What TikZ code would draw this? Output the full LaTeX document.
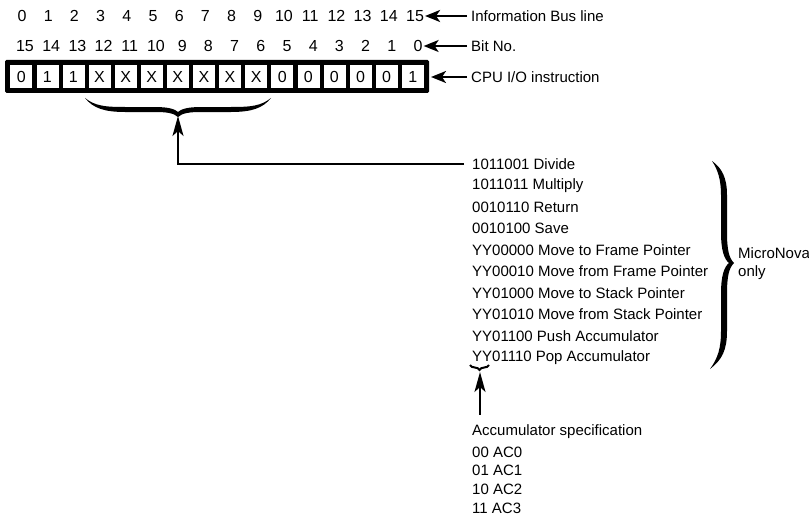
\documentclass[tikz,border=0pt]{standalone}
\usepackage{fontspec}
\setmainfont{Liberation Sans}
\usetikzlibrary{arrows.meta,decorations.pathreplacing}

\tikzset{
  cell/.style={draw=black, line width=0.6pt, fill=white, minimum width=23pt,
    minimum height=24pt, inner sep=0pt, font=\fontsize{16}{16}\selectfont},
  num/.style={inner sep=1pt, font=\fontsize{16}{16}\selectfont},
  txt/.style={anchor=west, inner sep=0pt, font=\fontsize{15}{18}\selectfont},
  arr/.style={-{Stealth[length=15pt,width=12pt,inset=4pt]}, line width=2pt},
  upar/.style={-{Stealth[length=20pt,width=11pt,inset=5pt]}, line width=2pt},
  brc/.style={decorate, decoration={brace, amplitude=#1}, line width=2pt},
}

\begin{document}
\begin{tikzpicture}[x=1pt,y=-1pt]
  \useasboundingbox (0,0) rectangle (809,519);

  % Bus line and bit numbers
  \foreach \i in {0,...,15}
    \node[num] (bus\i) at (22+26.2*\i,16) {\i};
  \foreach \i in {0,...,15}
    \node[num] (bit\i) at (418-26.2*\i,46) {\i};

  % instruction word
  \fill[rounded corners=1.5pt] (5,60) rectangle (429,93);
  \foreach \v [count=\i from 0] in {0,1,1,X,X,X,X,X,X,X,0,0,0,0,0,1}
    \node[cell] (c\i) at (21.2+26.1*\i,76.5) {\v};
  \coordinate (wordE) at (431,77);

  % labels at the right
  \node[txt] (lbus) at (471,16) {Information Bus line};
  \node[txt] (lbit) at (471,46) {Bit No.};
  \node[txt] (lins) at (471,77) {CPU I/O instruction};
  \draw[arr, shorten <=4pt] (lbus.west) -- (bus15.east);
  \draw[arr, shorten <=4pt] (lbit.west) -- (bit0.east);
  \draw[arr, shorten <=4pt] (lins.west) -- (wordE);

  % brace under bits 3-9
  \fill (85,98) .. controls (95,106) and (105,107) .. (125,107) -- (155,107)
    .. controls (168,107) and (175,109) .. (178,112)
    .. controls (181,109) and (188,107) .. (201,107) -- (231,107)
    .. controls (251,107) and (261,106) .. (271,98)
    .. controls (263,108) and (252,112) .. (231,112) -- (201,112)
    .. controls (190,112) and (182,113) .. (178,117)
    .. controls (174,113) and (166,112) .. (155,112) -- (125,112)
    .. controls (104,112) and (93,108) .. (85,98) -- cycle;
  \coordinate (brTip) at (178,116);

  % instruction list
  \foreach \t [count=\k from 0] in {1011001 Divide, 1011011 Multiply,
      0010110 Return, 0010100 Save, YY00000 Move to Frame Pointer,
      YY00010 Move from Frame Pointer, YY01000 Move to Stack Pointer,
      YY01010 Move from Stack Pointer, YY01100 Push Accumulator,
      YY01110 Pop Accumulator}
    \node[txt] (ins\k) at (472,164+21.5*\k) {\t};
  \draw[upar, shorten <=8pt] (ins0.west) -| (brTip);

  % MicroNova only
  \fill (712,161) .. controls (722,168) and (727,178) .. (727,195) -- (727,232)
    .. controls (727,250) and (729,258) .. (734,263)
    .. controls (729,268) and (727,276) .. (727,294) -- (727,331)
    .. controls (727,350) and (722,360) .. (710,369)
    .. controls (718,358) and (721,348) .. (721,331) -- (721,294)
    .. controls (721,276) and (724,267) .. (729,263)
    .. controls (724,259) and (721,250) .. (721,232) -- (721,195)
    .. controls (721,180) and (718,170) .. (712,161) -- cycle;
  \node[txt, align=left] (micro) at (738,264) {MicroNova\\only};

  % accumulator field
  \draw[brc=5pt] (489,365) -- (470,365);
  \coordinate (yyTip) at (480,372);
  \node[txt] (acc) at (472,432) {Accumulator specification};
  \foreach \t [count=\k from 0] in {00 AC0, 01 AC1, 10 AC2, 11 AC3}
    \node[txt] (ac\k) at (472,452+18.7*\k) {\t};
  \draw[upar] ([xshift=8pt,yshift=10pt]acc.north west) -- (yyTip);
\end{tikzpicture}
\end{document}
